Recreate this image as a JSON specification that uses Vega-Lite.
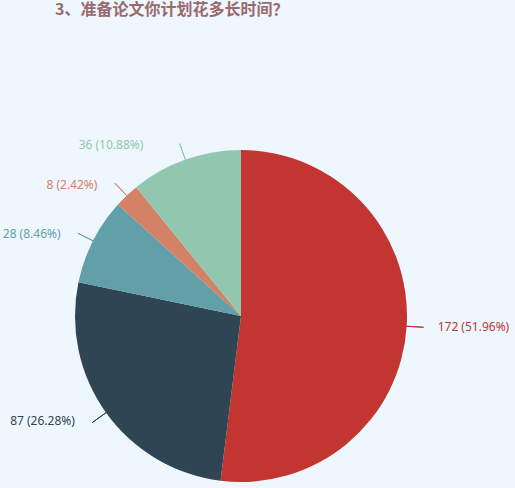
{
  "$schema": "https://vega.github.io/schema/vega-lite/v6.json",
  "width": 332,
  "height": 332,
  "autosize": "none",
  "padding": {"left": 75, "top": 150, "right": 108, "bottom": 6},
  "background": "#eff7fe",
  "title": {
    "text": "3、准备论文你计划花多长时间？",
    "anchor": "start",
    "frame": "group",
    "dx": -20,
    "offset": 121,
    "font": "Noto Sans CJK SC",
    "fontSize": 16,
    "fontWeight": "bold",
    "color": "#9a6a6c"
  },
  "data": {
    "values": [
      {"idx": 1, "value": 172, "label": "172 (51.96%)"},
      {"idx": 2, "value": 87, "label": "87 (26.28%)"},
      {"idx": 3, "value": 28, "label": "28 (8.46%)"},
      {"idx": 4, "value": 8, "label": "8 (2.42%)"},
      {"idx": 5, "value": 36, "label": "36 (10.88%)"}
    ]
  },
  "encoding": {
    "color": {
      "field": "idx",
      "type": "nominal",
      "scale": {"range": ["#c23531", "#2f4554", "#61a0a8", "#d48265", "#91c7ae"]},
      "legend": null
    }
  },
  "layer": [
    {
      "mark": {"type": "arc", "outerRadius": 166},
      "encoding": {
        "theta": {"field": "value", "type": "quantitative", "stack": true},
        "order": {"field": "idx", "type": "quantitative"}
      }
    },
    {
      "transform": [
        {"stack": "value", "groupby": [], "sort": [{"field": "idx"}], "as": ["v0", "v1"]}
      ],
      "mark": {
        "type": "arc",
        "filled": false,
        "innerRadius": 166,
        "outerRadius": 183,
        "padAngle": 3.1416,
        "thetaOffset": 0.08,
        "theta2Offset": -0.08,
        "strokeWidth": 1
      },
      "encoding": {
        "theta": {"field": "v0", "type": "quantitative"},
        "theta2": {"field": "v1"}
      }
    },
    {
      "mark": {
        "type": "text",
        "radius": 181,
        "font": "Noto Sans",
        "fontSize": 12,
        "baseline": "middle",
        "align": {"expr": "datum.idx == 1 ? 'left' : 'right'"},
        "dx": {"expr": "datum.idx == 1 ? 16 : datum.idx == 5 ? -37 : -19"}
      },
      "encoding": {
        "theta": {"field": "value", "type": "quantitative", "stack": true},
        "order": {"field": "idx", "type": "quantitative"},
        "text": {"field": "label"}
      }
    }
  ]
}
